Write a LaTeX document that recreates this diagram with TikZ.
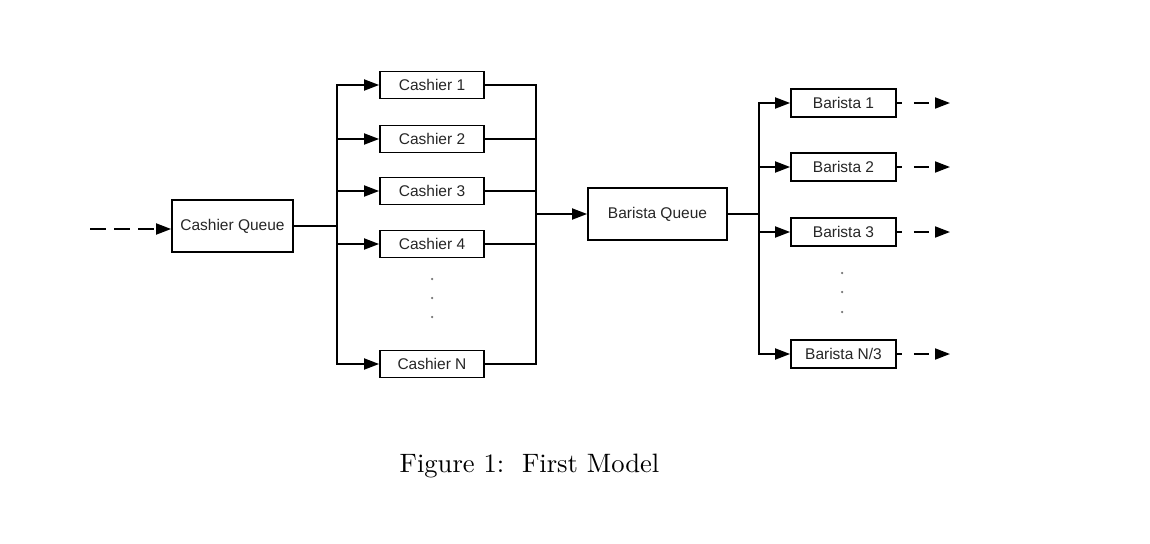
\documentclass[tikz,border=0pt]{standalone}
\usepackage{fontspec}
\setsansfont{Liberation Sans}
\usetikzlibrary{arrows.meta}
\begin{document}
\begin{tikzpicture}[x=1pt,y=-1pt,
  box/.style={draw, line width=1.8pt, minimum height=27pt, minimum width=104pt,
    inner sep=0pt, font=\sffamily\fontsize{15.5}{18}\selectfont, text=black!85},
  queue/.style={box, minimum height=52pt},
  link/.style={line width=1.8pt},
  tip/.style={-{Triangle[length=15pt,width=11pt]}},
  outflow/.style={link, tip, dash pattern=on 5pt off 12pt on 15pt off 20pt},
  dotmark/.style={circle, fill=black!55, inner sep=0pt, minimum size=2.5pt}
]
\useasboundingbox (0,0) rectangle (1150,543);

% queues
\node[queue, minimum width=121pt] (cq) at (232.5,226) {Cashier Queue};
\node[queue, minimum width=139pt] (bq) at (657.5,214) {Barista Queue};

% cashiers
\node[box] (c1) at (432,85) {Cashier 1};
\node[box] (c2) at (432,139) {Cashier 2};
\node[box] (c3) at (432,191) {Cashier 3};
\node[box] (c4) at (432,244) {Cashier 4};
\node[box] (cn) at (432,364) {Cashier N};

% baristas
\node[box, minimum width=105pt, minimum height=28pt] (b1) at (843.5,103) {Barista 1};
\node[box, minimum width=105pt, minimum height=28pt] (b2) at (843.5,167) {Barista 2};
\node[box, minimum width=105pt, minimum height=28pt] (b3) at (843.5,232) {Barista 3};
\node[box, minimum width=105pt, minimum height=28pt] (bn) at (843.5,354) {Barista N/3};

% ellipsis dots
\node[dotmark] (cd1) at (432,279) {};
\node[dotmark] (cd2) at (432,298) {};
\node[dotmark] (cd3) at (432,317) {};
\node[dotmark] (bd1) at (842,273) {};
\node[dotmark] (bd2) at (842,292) {};
\node[dotmark] (bd3) at (842,312) {};

% junction points
\coordinate (in) at (90,229);
\coordinate (s1) at (337,226);
\coordinate (m1) at (536,214);
\coordinate (s2) at (759,214);
\coordinate (o1) at (950,103);
\coordinate (o2) at (950,167);
\coordinate (o3) at (950,232);
\coordinate (on) at (950,354);

% arrivals
\draw[link, tip, dash pattern=on 16pt off 8pt] (in) -- (in -| cq.west);

% cashier stage
\draw[link] (cq.east |- s1) -- (s1);
\foreach \c in {c1,c2,c3,c4,cn}{
  \draw[link, tip] (s1) |- (\c.west);
  \draw[link] (\c.east) -| (m1);
}
\draw[link, tip] (m1) -- (bq.west);

% barista stage
\draw[link] (bq.east) -- (s2);
\foreach \b in {b1,b2,b3,bn}{
  \draw[link, tip] (s2) |- (\b.west);
}
\draw[outflow] (b1.east) -- (o1);
\draw[outflow] (b2.east) -- (o2);
\draw[outflow] (b3.east) -- (o3);
\draw[outflow] (bn.east) -- (on);

% caption
\node[anchor=base, scale=2.66, inner sep=0pt] (cap) at (529.5,472) {Figure 1:\ \ First Model};
\end{tikzpicture}
\end{document}
